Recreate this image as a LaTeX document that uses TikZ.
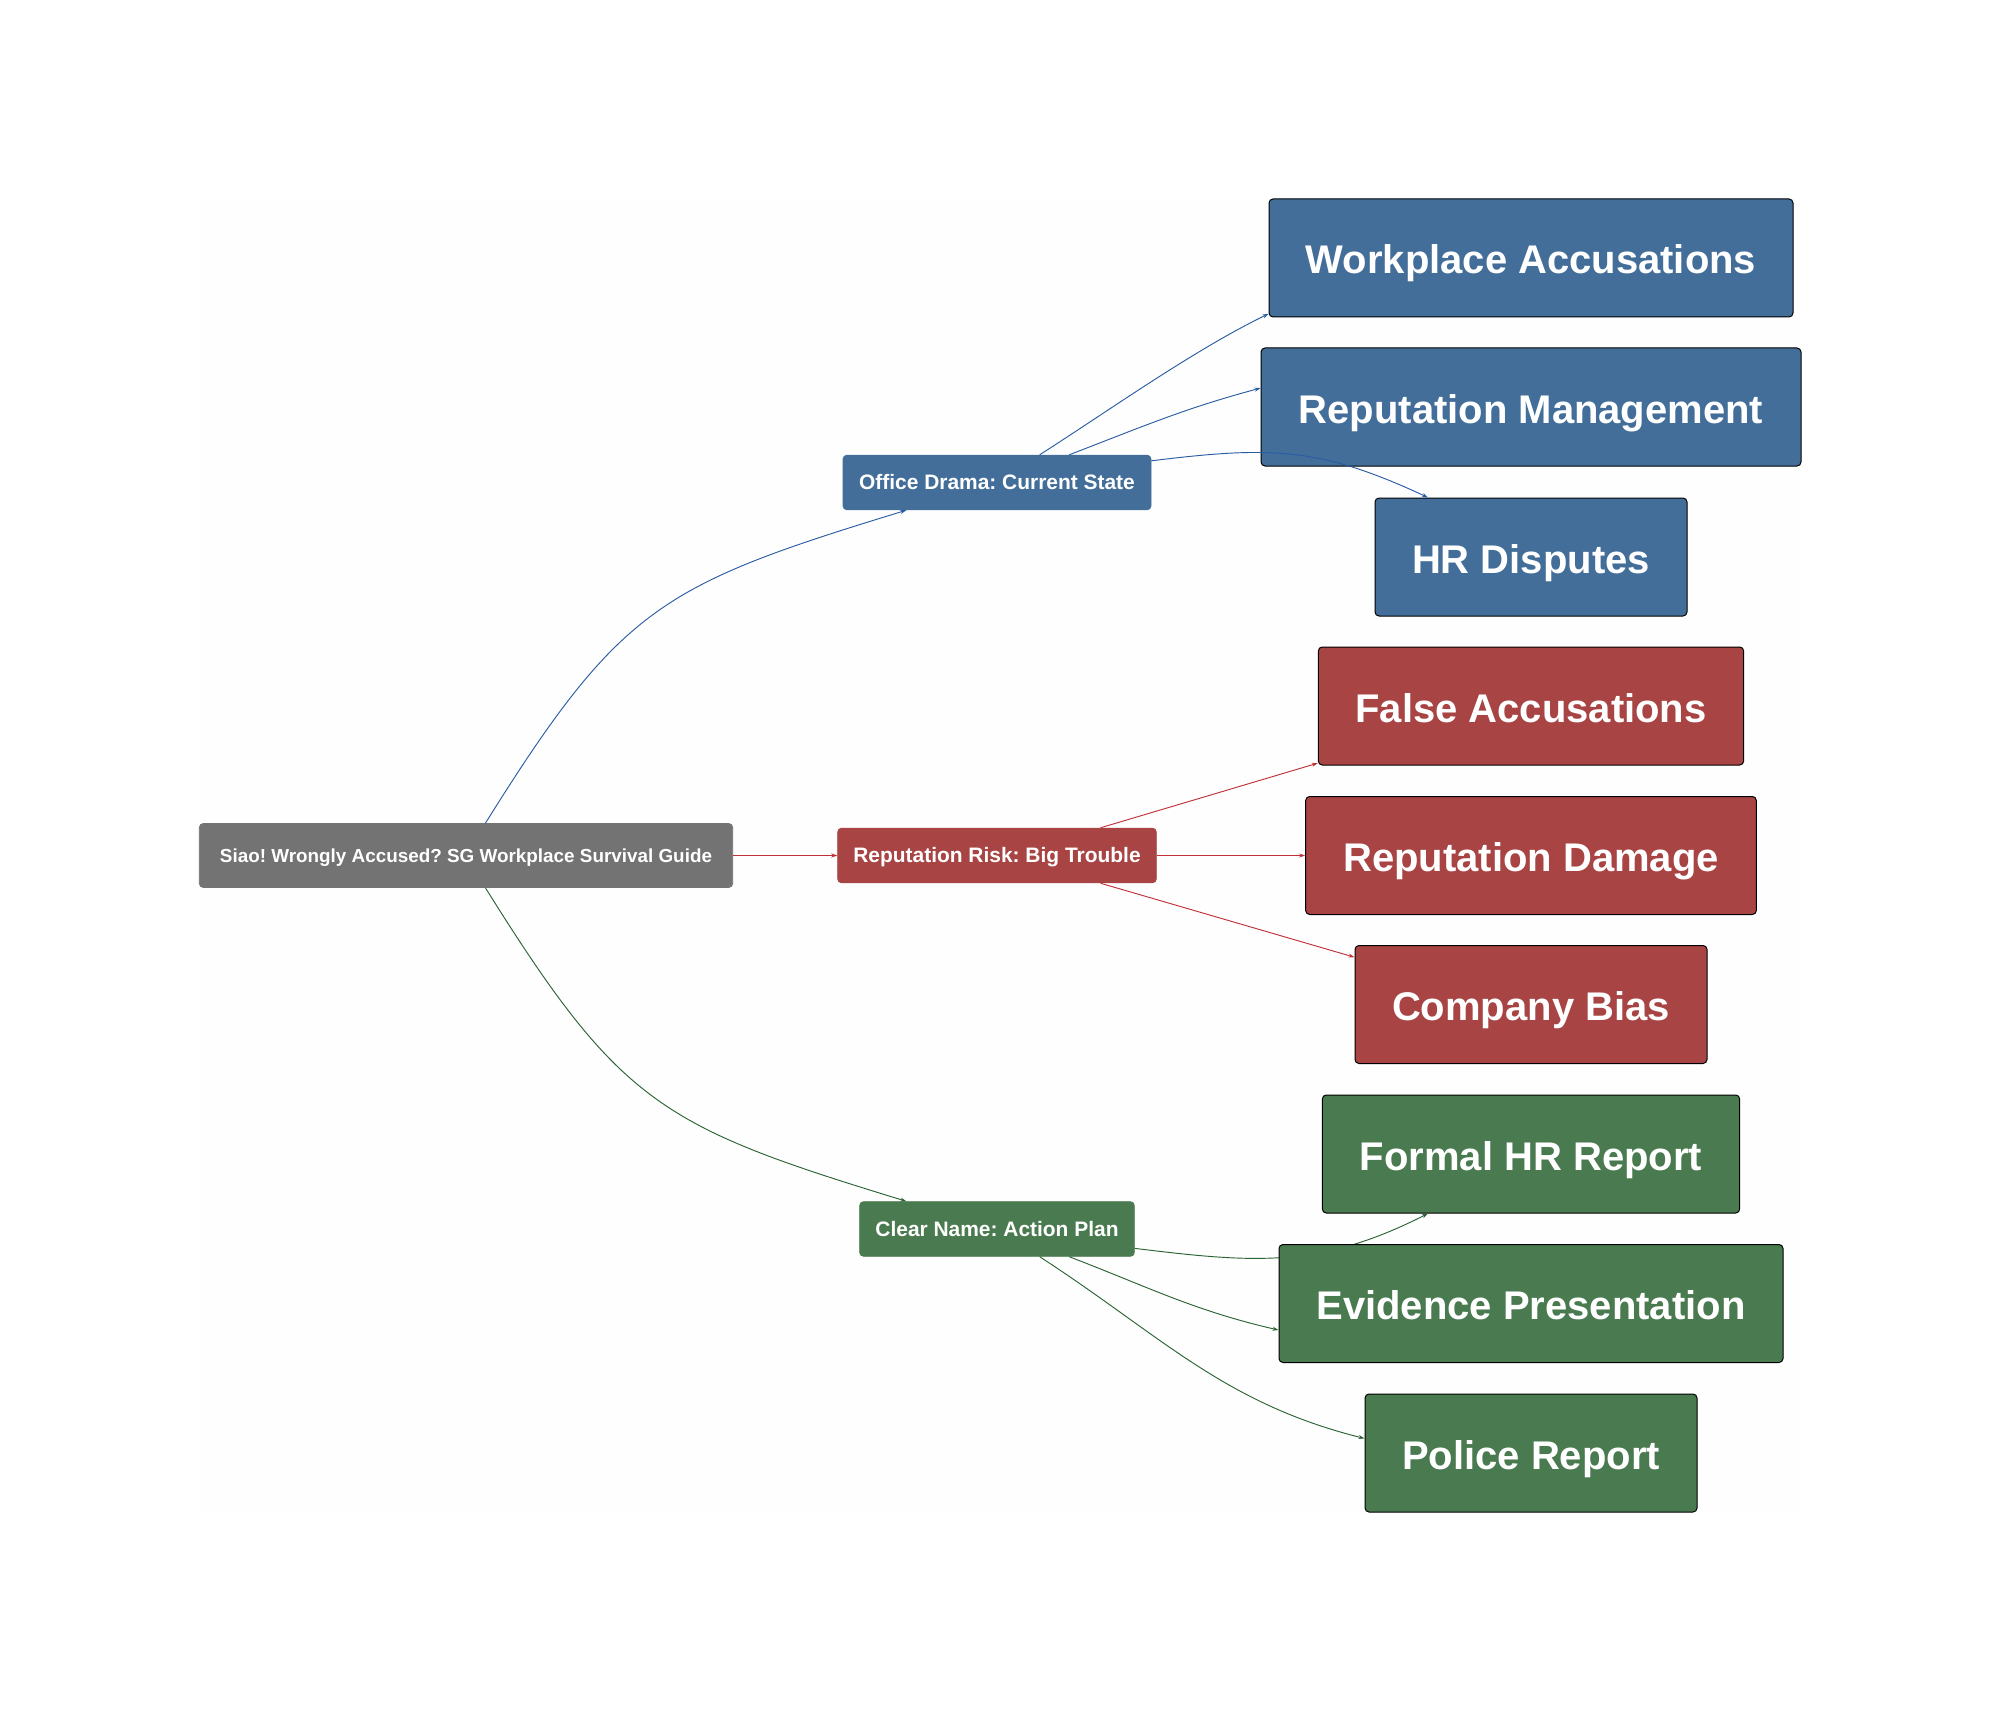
\documentclass[tikz,border=0pt]{standalone}
\usepackage{fontspec}
\setmainfont{Liberation Sans}
\usetikzlibrary{arrows.meta}
\definecolor{blueFill}{HTML}{436E99}
\definecolor{redFill}{HTML}{A84444}
\definecolor{greenFill}{HTML}{4A7A4F}
\definecolor{greyFill}{HTML}{737373}
\definecolor{blueLine}{HTML}{2A5CA3}
\definecolor{redLine}{HTML}{C03038}
\definecolor{greenLine}{HTML}{2A6333}
\definecolor{paperTint}{HTML}{FEFEFE}
\tikzset{
  smallbox/.style={rounded corners=3pt,line width=0.6pt,minimum height=41pt,inner sep=0pt,
    text=white,text height=10.5pt,text depth=0pt,font=\fontsize{15.7}{18}\selectfont\bfseries},
  rootbox/.style={smallbox,minimum height=48pt,font=\fontsize{14.15}{18}\selectfont\bfseries},
  bigbox/.style={rounded corners=3pt,draw=black,line width=0.75pt,minimum height=88.5pt,inner sep=0pt,
    text=white,text height=24pt,text depth=0pt,font=\fontsize{30}{36}\selectfont\bfseries},
  link/.style={-{Stealth[length=4.5pt,width=3pt]},line width=0.7pt}
}
\begin{document}
\frenchspacing
\begin{tikzpicture}[x=0.75pt,y=-0.75pt]
  \useasboundingbox (0,0) rectangle (2000,1712);
  \fill[white] (0,0) rectangle (2000,1712);
  \fill[paperTint] (199,199) rectangle (1801,1513);
  \draw
    (466,855.5) node[rootbox,draw=greyFill,fill=greyFill,minimum width=400pt] (root){Siao! Wrongly Accused? SG Workplace Survival Guide}
    (997,482.5) node[smallbox,draw=blueFill,fill=blueFill,minimum width=231pt] (office){Office Drama: Current State}
    (997,855.5) node[smallbox,draw=redFill,fill=redFill,minimum width=239pt] (risk){Reputation Risk: Big Trouble}
    (997,1229) node[smallbox,draw=greenFill,fill=greenFill,minimum width=206pt] (clear){Clear Name: Action Plan};
  \draw
    (1531,258) node[bigbox,fill=blueFill,minimum width=393pt] (accuse){Workplace Accusations}
    (1531,407) node[bigbox,fill=blueFill,minimum width=405pt] (manage){Reputation Management}
    (1531,557) node[bigbox,fill=blueFill,minimum width=234pt] (hr){HR Disputes}
    (1531,706) node[bigbox,fill=redFill,minimum width=319pt] (falsely){False Accusations}
    (1531,855.5) node[bigbox,fill=redFill,minimum width=338pt] (damage){Reputation Damage}
    (1531,1004.5) node[bigbox,fill=redFill,minimum width=264pt] (bias){Company Bias}
    (1531,1154) node[bigbox,fill=greenFill,minimum width=313pt] (formal){Formal HR Report};
  \begin{scope}[link,blueLine]
    \draw (root.59) to[out=58,in=197,looseness=1.25] (office.197);
    \draw (office.33) to[out=32.6,in=206,looseness=0.8] (accuse.192);
    \draw (office.21) to[out=21,in=195] (manage.176);
    \draw (office.8) to[out=7,in=155,looseness=1.1] (hr.150);
  \end{scope}
  \begin{scope}[link,redLine]
    \draw (root.east) to (risk.west);
    \draw (risk.15) to (falsely.195);
    \draw (risk.east) to (damage.west);
    \draw (risk.-15) to (bias.165);
  \end{scope}
  \begin{scope}[link,greenLine]
    \draw (root.-59) to[out=-58,in=163,looseness=1.25] (clear.163);
    \draw (clear.-8) to[out=-7,in=207,looseness=1.05] (formal.210);
  \end{scope}
  \draw
    (1531,1303.5) node[bigbox,fill=greenFill,minimum width=378pt] (evidence){Evidence Presentation}
    (1531,1453) node[bigbox,fill=greenFill,minimum width=249pt] (police){Police Report};
  \begin{scope}[link,greenLine]
    \draw (clear.-21) to[out=-21,in=167] (evidence.186);
    \draw (clear.-33) to[out=-33,in=166] (police.175);
  \end{scope}
\end{tikzpicture}
\end{document}
